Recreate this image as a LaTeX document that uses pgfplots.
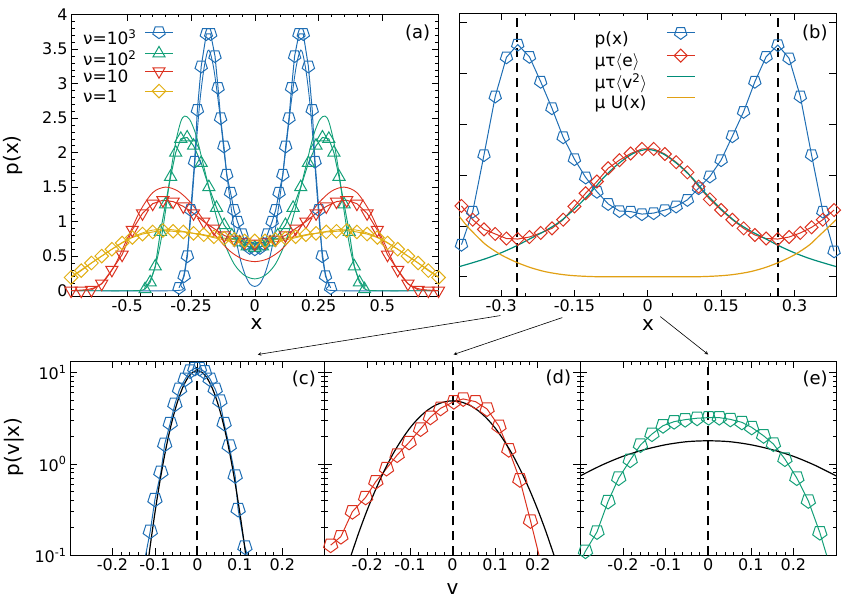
\documentclass[border=0pt]{standalone}
\usepackage{fontspec}
\setmainfont{DejaVu Sans}
\usepackage{pgfplots}
\pgfplotsset{compat=1.18}
\definecolor{cblue}{RGB}{31,110,180}
\definecolor{cgreen}{RGB}{20,160,120}
\definecolor{cred}{RGB}{220,50,32}
\definecolor{cyel}{RGB}{225,175,20}
\definecolor{cteal}{RGB}{0,140,120}
\definecolor{corange}{RGB}{225,160,20}
\pgfplotsset{
  myaxis/.style={
    scale only axis,
    anchor=south west,
    tick align=inside,
    major tick length=7pt,
    minor tick length=3.5pt,
    every tick/.style={black, line width=0.6pt},
    axis line style={line width=0.9pt},
    tick label style={font=\fontsize{16}{18}\selectfont},
    label style={font=\fontsize{20}{22}\selectfont},
  },
  dat/.style={line width=1pt, mark options={solid, line width=1pt}},
  pent/.style={mark=pentagon, mark options={solid, line width=1pt, rotate=180}},
  th/.style={line width=0.9pt, smooth, forget plot},
  vdash/.style={black, line width=2pt, dash pattern=on 9pt off 6pt, forget plot},
  bot/.style={myaxis, width=255pt, height=194pt,
    xmin=-0.3, xmax=0.3, ymin=0.1, ymax=13.2,
    xtick={-0.2,-0.1,0,0.1,0.2}, xticklabels={-0.2,-0.1,0,0.1,0.2},
    minor x tick num=4,
    ytick={0.1,1,10},
    minor ytick={0.2,0.3,0.4,0.5,0.6,0.7,0.8,0.9,2,3,4,5,6,7,8,9},
  },
}
\begin{document}
\begin{tikzpicture}
\path (0pt,0pt) rectangle (850pt,599pt);
% ---------------- (a)
\begin{axis}[myaxis, at={(70pt,302pt)}, width=368pt, height=283pt,
  xmin=-0.72, xmax=0.72, ymin=-0.087, ymax=4.01,
  xtick={-0.5,-0.25,0,0.25,0.5}, xticklabels={-0.5,-0.25,0,0.25,0.5},
  ytick={0,0.5,1,1.5,2,2.5,3,3.5,4}, yticklabels={0,0.5,1,1.5,2,2.5,3,3.5,4},
  minor x tick num=4, minor y tick num=4,
  xlabel={x}, ylabel={p(x)},
  xlabel style={at={(axis description cs:0.505,-0.097)}, anchor=center},
  ylabel style={at={(axis description cs:-0.158,0.5)}, anchor=center},
  legend plot pos=right, legend cell align=left,
  legend style={at={(axis description cs:0.027,0.955)}, anchor=north west, draw=none, fill=none,
    font=\fontsize{17}{19}\selectfont, inner sep=0pt, row sep=-1.5pt, column sep=6pt},
  legend image code/.code={\draw[mark repeat=2,mark phase=2] plot coordinates {(0pt,5.5pt)(14pt,5.5pt)(28pt,5.5pt)};},
]
\addplot[dat, cblue, pent, mark size=6.5pt] coordinates {(-0.297,0.04)(-0.277,0.21)(-0.264,0.50)(-0.251,1.17)(-0.236,1.87)(-0.225,2.62)(-0.210,3.25)(-0.190,3.72)(-0.173,3.72)(-0.156,3.40)(-0.144,2.94)(-0.134,2.50)(-0.121,2.09)(-0.110,1.68)(-0.095,1.42)(-0.082,1.17)(-0.068,1.00)(-0.050,0.82)(-0.035,0.68)(-0.020,0.62)(0,0.60)(0.020,0.62)(0.035,0.68)(0.050,0.82)(0.068,1.00)(0.082,1.17)(0.095,1.42)(0.110,1.68)(0.121,2.09)(0.134,2.50)(0.144,2.94)(0.156,3.40)(0.173,3.72)(0.190,3.72)(0.210,3.25)(0.225,2.62)(0.236,1.87)(0.251,1.17)(0.264,0.50)(0.277,0.21)(0.297,0.04)};
\addlegendentry{ν=10\textsuperscript{3}}
\addplot[dat, cgreen, mark=triangle, mark size=7pt] coordinates {(-0.43,0.02)(-0.41,0.12)(-0.39,0.35)(-0.37,0.85)(-0.35,1.25)(-0.33,1.65)(-0.31,2.00)(-0.29,2.20)(-0.265,2.22)(-0.24,2.10)(-0.21,1.85)(-0.18,1.50)(-0.15,1.20)(-0.12,0.95)(-0.09,0.80)(-0.06,0.70)(-0.03,0.64)(0,0.62)(0.03,0.64)(0.06,0.70)(0.09,0.80)(0.12,0.95)(0.15,1.20)(0.18,1.50)(0.21,1.85)(0.24,2.10)(0.265,2.22)(0.29,2.20)(0.31,2.00)(0.33,1.65)(0.35,1.25)(0.37,0.85)(0.39,0.35)(0.41,0.12)(0.43,0.02)};
\addlegendentry{ν=10\textsuperscript{2}}
\addplot[dat, cred, mark=triangle, mark size=7pt, mark options={rotate=180}] coordinates {(-0.72,0)(-0.68,0)(-0.64,0.01)(-0.60,0.10)(-0.56,0.30)(-0.52,0.52)(-0.48,0.88)(-0.44,1.12)(-0.40,1.26)(-0.36,1.31)(-0.32,1.29)(-0.28,1.22)(-0.24,1.12)(-0.20,1.00)(-0.16,0.90)(-0.12,0.80)(-0.08,0.74)(-0.04,0.70)(0,0.68)(0.04,0.70)(0.08,0.74)(0.12,0.80)(0.16,0.90)(0.20,1.00)(0.24,1.12)(0.28,1.22)(0.32,1.29)(0.36,1.31)(0.40,1.26)(0.44,1.12)(0.48,0.88)(0.52,0.52)(0.56,0.30)(0.60,0.10)(0.64,0.01)(0.68,0)(0.72,0)};
\addlegendentry{ν=10}
\addplot[dat, cyel, mark=square, mark size=4.8pt, mark options={rotate=45}] coordinates {(-0.72,0.19)(-0.68,0.29)(-0.64,0.40)(-0.60,0.50)(-0.56,0.60)(-0.52,0.69)(-0.48,0.77)(-0.44,0.82)(-0.40,0.85)(-0.36,0.87)(-0.32,0.86)(-0.28,0.85)(-0.24,0.83)(-0.20,0.81)(-0.16,0.78)(-0.12,0.76)(-0.08,0.74)(-0.04,0.72)(0,0.72)(0.04,0.72)(0.08,0.74)(0.12,0.76)(0.16,0.78)(0.20,0.81)(0.24,0.83)(0.28,0.85)(0.32,0.86)(0.36,0.87)(0.40,0.85)(0.44,0.82)(0.48,0.77)(0.52,0.69)(0.56,0.60)(0.60,0.50)(0.64,0.40)(0.68,0.29)(0.72,0.19)};
\addlegendentry{ν=1}
% theory
\addplot[th, cblue] coordinates {(-0.72,0)(-0.31,0)(-0.29,0.08)(-0.275,0.28)(-0.26,0.70)(-0.245,1.35)(-0.23,2.10)(-0.215,2.75)(-0.20,3.20)(-0.185,3.47)(-0.175,3.45)(-0.16,3.20)(-0.14,2.65)(-0.12,2.00)(-0.10,1.40)(-0.08,0.88)(-0.06,0.50)(-0.04,0.25)(-0.02,0.10)(0,0.06)(0.02,0.10)(0.04,0.25)(0.06,0.50)(0.08,0.88)(0.10,1.40)(0.12,2.00)(0.14,2.65)(0.16,3.20)(0.175,3.45)(0.185,3.47)(0.20,3.20)(0.215,2.75)(0.23,2.10)(0.245,1.35)(0.26,0.70)(0.275,0.28)(0.29,0.08)(0.31,0)(0.72,0)};
\addplot[th, cgreen] coordinates {(-0.72,0)(-0.46,0)(-0.43,0.05)(-0.41,0.15)(-0.39,0.35)(-0.37,0.68)(-0.35,1.15)(-0.33,1.70)(-0.31,2.15)(-0.29,2.45)(-0.275,2.53)(-0.255,2.48)(-0.23,2.25)(-0.20,1.80)(-0.16,1.20)(-0.12,0.70)(-0.08,0.38)(-0.04,0.22)(0,0.17)(0.04,0.22)(0.08,0.38)(0.12,0.70)(0.16,1.20)(0.20,1.80)(0.23,2.25)(0.255,2.48)(0.275,2.53)(0.29,2.45)(0.31,2.15)(0.33,1.70)(0.35,1.15)(0.37,0.68)(0.39,0.35)(0.41,0.15)(0.43,0.05)(0.46,0)(0.72,0)};
\addplot[th, cred] coordinates {(-0.72,0)(-0.65,0.02)(-0.60,0.10)(-0.55,0.36)(-0.50,0.75)(-0.45,1.15)(-0.40,1.42)(-0.35,1.50)(-0.30,1.44)(-0.25,1.27)(-0.20,1.02)(-0.15,0.78)(-0.10,0.58)(-0.05,0.46)(0,0.42)(0.05,0.46)(0.10,0.58)(0.15,0.78)(0.20,1.02)(0.25,1.27)(0.30,1.44)(0.35,1.50)(0.40,1.42)(0.45,1.15)(0.50,0.75)(0.55,0.36)(0.60,0.10)(0.65,0.02)(0.72,0)};
\addplot[th, cyel] coordinates {(-0.72,0.20)(-0.6,0.50)(-0.5,0.74)(-0.42,0.86)(-0.36,0.89)(-0.3,0.87)(-0.2,0.80)(-0.1,0.72)(0,0.68)(0.1,0.72)(0.2,0.80)(0.3,0.87)(0.36,0.89)(0.42,0.86)(0.5,0.74)(0.6,0.50)(0.72,0.20)};
\node[font=\fontsize{18}{20}\selectfont] at (axis description cs:0.943,0.933) {(a)};
\end{axis}
% ---------------- (b)
\begin{axis}[myaxis, at={(459pt,302pt)}, width=377pt, height=284pt,
  xmin=-0.385, xmax=0.385, ymin=-0.39, ymax=5.18,
  xtick={-0.3,-0.15,0,0.15,0.3}, xticklabels={-0.3,-0.15,0,0.15,0.3},
  ytick={0,1,2,3,4,5}, yticklabels={},
  minor x tick num=2,
  xlabel={x},
  xlabel style={at={(axis description cs:0.501,-0.099)}, anchor=center},
  legend plot pos=right, legend cell align=left,
  legend style={at={(axis description cs:0.353,0.949)}, anchor=north west, draw=none, fill=none,
    font=\fontsize{17}{19}\selectfont, inner sep=0pt, row sep=1.5pt, column sep=17pt},
  legend image code/.code={\draw[mark repeat=2,mark phase=2] plot coordinates {(0pt,5.5pt)(14pt,5.5pt)(28pt,5.5pt)};},
]
\addplot[vdash] coordinates {(-0.267,-0.39)(-0.267,5.18)};
\addplot[vdash] coordinates {(0.267,-0.39)(0.267,5.18)};
\addplot[dat, cblue, pent, mark size=6.5pt] coordinates {(-0.381,0.63)(-0.358,1.28)(-0.335,2.39)(-0.312,3.54)(-0.289,4.31)(-0.266,4.56)(-0.242,4.32)(-0.219,3.83)(-0.196,3.31)(-0.173,2.74)(-0.150,2.31)(-0.127,1.95)(-0.104,1.67)(-0.081,1.43)(-0.058,1.29)(-0.035,1.28)(-0.012,1.23)(0.012,1.25)(0.035,1.31)(0.058,1.38)(0.081,1.51)(0.104,1.74)(0.127,1.97)(0.150,2.29)(0.173,2.76)(0.196,3.24)(0.219,3.83)(0.242,4.32)(0.266,4.55)(0.289,4.29)(0.312,3.54)(0.335,2.39)(0.358,1.28)(0.381,0.50)};
\addlegendentry{p(x)}
\addplot[dat, cred, mark=square, mark size=4.6pt, mark options={rotate=45}] coordinates {(-0.381,1.39)(-0.358,1.12)(-0.335,0.93)(-0.312,0.84)(-0.289,0.75)(-0.266,0.74)(-0.242,0.78)(-0.219,0.86)(-0.196,0.95)(-0.173,1.12)(-0.150,1.38)(-0.127,1.64)(-0.104,1.87)(-0.081,2.13)(-0.058,2.29)(-0.035,2.42)(-0.012,2.51)(0.012,2.51)(0.035,2.41)(0.058,2.25)(0.081,2.05)(0.104,1.77)(0.127,1.52)(0.150,1.31)(0.173,1.12)(0.196,0.95)(0.219,0.82)(0.242,0.75)(0.266,0.74)(0.289,0.78)(0.312,0.86)(0.335,0.97)(0.358,1.12)(0.381,1.31)};
\addlegendentry{μτ\(\langle\)e\(\rangle\)}
\addplot[cteal, line width=1.2pt, smooth] coordinates {(-0.385,0.20)(-0.36,0.27)(-0.33,0.36)(-0.30,0.47)(-0.27,0.60)(-0.24,0.75)(-0.21,0.90)(-0.18,1.08)(-0.15,1.33)(-0.12,1.62)(-0.09,1.95)(-0.06,2.22)(-0.03,2.42)(0,2.50)(0.03,2.42)(0.06,2.22)(0.09,1.95)(0.12,1.62)(0.15,1.33)(0.18,1.08)(0.21,0.90)(0.24,0.75)(0.27,0.60)(0.30,0.47)(0.33,0.36)(0.36,0.27)(0.385,0.20)};
\addlegendentry{μτ\(\langle\)v\textsuperscript{2}\(\rangle\)}
\addplot[corange, line width=1.2pt, smooth] coordinates {(-0.385,1.18)(-0.37,1.00)(-0.35,0.80)(-0.33,0.62)(-0.30,0.43)(-0.27,0.29)(-0.24,0.18)(-0.21,0.10)(-0.18,0.05)(-0.15,0.02)(-0.10,0.0)(0,0)(0.10,0.0)(0.15,0.02)(0.18,0.05)(0.21,0.10)(0.24,0.18)(0.27,0.29)(0.30,0.43)(0.33,0.62)(0.35,0.80)(0.37,0.98)(0.385,1.12)};
\addlegendentry{μ U(x)}
\node[font=\fontsize{18}{20}\selectfont] at (axis description cs:0.944,0.93) {(b)};
\end{axis}
% ---------------- bottom row
% (c)
\begin{axis}[bot, ymode=log, at={(69pt,43pt)},
  yticklabels={10\textsuperscript{-1},10\textsuperscript{0},10\textsuperscript{1}},
  ylabel={p(v|x)},
  ylabel style={at={(axis description cs:-0.22,0.56)}, anchor=center}]
\addplot[vdash] coordinates {(0,0.1)(0,13.2)};
\addplot[dat, cblue, pent, mark size=7.5pt] coordinates {(-0.111,0.183)(-0.100,0.408)(-0.086,0.81)(-0.077,1.64)(-0.064,2.78)(-0.053,4.5)(-0.042,6.56)(-0.029,8.45)(-0.017,10.4)(-0.006,11.1)(0.005,11.1)(0.017,10.2)(0.030,8.45)(0.042,6.56)(0.053,4.89)(0.063,2.78)(0.075,1.57)(0.089,0.74)(0.096,0.317)(0.112,0.123)};
\addplot[cblue, line width=1pt] coordinates {(-0.122,0.1)(-0.111,0.183)};
\addplot[cblue, line width=1pt] coordinates {(0.112,0.123)(0.118,0.1)};
\addplot[black, line width=1.2pt, smooth] coordinates {(-0.115,0.092)(-0.11,0.138)(-0.10,0.292)(-0.09,0.577)(-0.08,1.06)(-0.07,1.82)(-0.06,2.89)(-0.05,4.29)(-0.04,5.92)(-0.03,7.60)(-0.02,9.10)(-0.01,10.13)(0,10.5)(0.01,10.13)(0.02,9.10)(0.03,7.60)(0.04,5.92)(0.05,4.29)(0.06,2.89)(0.07,1.82)(0.08,1.06)(0.09,0.577)(0.10,0.292)(0.11,0.138)(0.115,0.092)};
\node[font=\fontsize{18}{20}\selectfont] at (axis description cs:0.918,0.912) {(c)};
\end{axis}
% (d)
\begin{axis}[bot, ymode=log, at={(324pt,43pt)}, width=256pt, yticklabels={},
  xlabel={v},
  xlabel style={at={(axis description cs:0.5,-0.175)}, anchor=center}]
\addplot[vdash] coordinates {(0.002,0.1)(0.002,13.2)};
\addplot[dat, cred, pent, mark size=7.5pt] coordinates {(-0.286,0.129)(-0.262,0.160)(-0.235,0.30)(-0.204,0.43)(-0.180,0.64)(-0.155,0.89)(-0.130,1.25)(-0.102,1.72)(-0.075,2.41)(-0.052,3.24)(-0.028,4.06)(0.003,4.80)(0.025,5.14)(0.054,4.80)(0.081,3.99)(0.109,2.58)(0.132,1.43)(0.158,0.67)(0.183,0.238)};
\addplot[cred, line width=1pt] coordinates {(0.183,0.238)(0.203,0.1)};
\addplot[black, line width=1.2pt, smooth] coordinates {(-0.24,0.094)(-0.22,0.177)(-0.20,0.315)(-0.18,0.530)(-0.16,0.845)(-0.14,1.28)(-0.12,1.82)(-0.10,2.47)(-0.08,3.16)(-0.06,3.83)(-0.04,4.39)(-0.02,4.76)(0,4.90)(0.02,4.76)(0.04,4.39)(0.06,3.83)(0.08,3.16)(0.10,2.47)(0.12,1.82)(0.14,1.28)(0.16,0.845)(0.18,0.530)(0.20,0.315)(0.22,0.177)(0.24,0.094)};
\node[font=\fontsize{18}{20}\selectfont] at (axis description cs:0.914,0.917) {(d)};
\end{axis}
% (e)
\begin{axis}[bot, ymode=log, at={(580pt,43pt)}, width=256pt, yticklabels={}]
\addplot[vdash] coordinates {(0,0.1)(0,13.2)};
\addplot[dat, cgreen, pent, mark size=7.5pt] coordinates {(-0.288,0.111)(-0.261,0.18)(-0.235,0.388)(-0.210,0.70)(-0.183,1.10)(-0.159,1.61)(-0.132,2.12)(-0.106,2.62)(-0.080,2.90)(-0.054,3.05)(-0.026,3.16)(0.001,3.21)(0.026,3.21)(0.052,3.07)(0.079,2.85)(0.102,2.51)(0.130,2.03)(0.153,1.65)(0.180,1.13)(0.208,0.70)(0.235,0.394)(0.262,0.177)};
\addplot[cgreen, line width=1pt] coordinates {(0.262,0.177)(0.278,0.1)};
\addplot[cgreen, line width=1pt] coordinates {(-0.30,0.085)(-0.288,0.111)};
\addplot[black, line width=1.2pt, smooth] coordinates {(-0.3,0.74)(-0.25,0.968)(-0.2,1.21)(-0.15,1.43)(-0.1,1.62)(-0.05,1.75)(0,1.79)(0.05,1.75)(0.1,1.62)(0.15,1.43)(0.2,1.21)(0.25,0.968)(0.3,0.74)};
\node[font=\fontsize{18}{20}\selectfont] at (axis description cs:0.918,0.912) {(e)};
\end{axis}
% arrows
\draw[->, >=stealth, line width=0.6pt] (500pt,283pt) -- (257pt,244pt);
\draw[->, >=stealth, line width=0.6pt] (562pt,281pt) -- (453pt,244pt);
\draw[->, >=stealth, line width=0.6pt] (660pt,282pt) -- (708pt,244pt);
\end{tikzpicture}
\end{document}
